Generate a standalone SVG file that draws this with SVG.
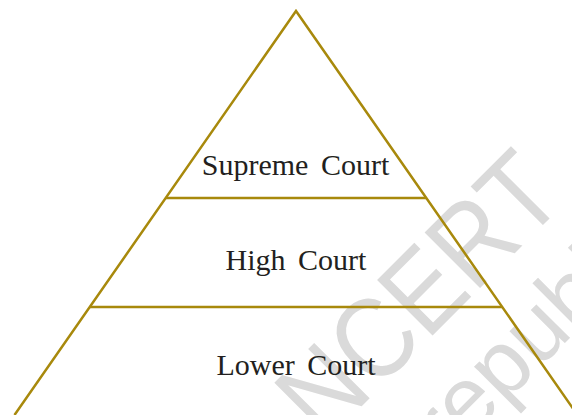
<svg xmlns="http://www.w3.org/2000/svg" width="572" height="415" viewBox="0 0 572 415">
<style>
.wm{font-family:"Liberation Sans","DejaVu Sans",sans-serif;fill:#DADADA}
.ln{stroke:#A8890C;stroke-width:2.5;fill:none;stroke-linecap:butt}
.lbl{font-family:"Liberation Serif","DejaVu Serif",serif;font-size:30px;fill:#231F20;text-anchor:middle;word-spacing:5px}
</style>
<rect width="572" height="415" fill="#FFFFFF"/>
<g id="watermark">
<text class="wm" x="446" y="322" font-size="114" text-anchor="middle" textLength="345" lengthAdjust="spacingAndGlyphs" transform="rotate(-45 446 322)">NCERT</text>
<text class="wm" x="447" y="461" font-size="90" transform="rotate(-45 447 461)">republished</text>
</g>
<g id="connectors">
<path class="ln" d="M14.5,415 L296,11 L577.5,415"/>
<line class="ln" x1="166" y1="198" x2="426" y2="198"/>
<line class="ln" x1="90" y1="307" x2="502" y2="307"/>
</g>
<g id="supreme"><text class="lbl" x="295.5" y="175">Supreme Court</text></g>
<g id="high"><text class="lbl" x="296" y="270">High Court</text></g>
<g id="lower"><text class="lbl" x="296" y="375">Lower Court</text></g>
</svg>
